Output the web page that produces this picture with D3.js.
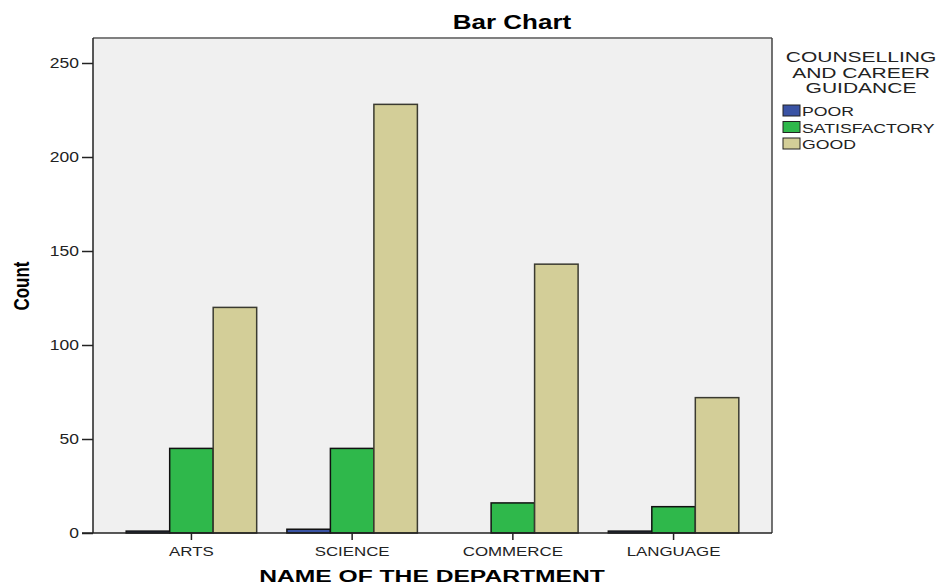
<!DOCTYPE html>
<html>
<head>
<meta charset="utf-8">
<script src="https://cdn.jsdelivr.net/npm/d3@7"></script>
<style>
  body { margin: 0; background: #fff; }
  text { font-family: "Liberation Sans", Arial, sans-serif; }
</style>
</head>
<body>
<svg id="chart" width="940" height="587"></svg>
<script>
// --- data ---
const departments = ["ARTS", "SCIENCE", "COMMERCE", "LANGUAGE"];
const ratings = ["POOR", "SATISFACTORY", "GOOD"];
const poor = [1, 2, 0, 1];
const satisfactory = [45, 45, 16, 14];
const good = [120, 228, 143, 72];
const yTicks = [0, 50, 100, 150, 200, 250];

const colors = { POOR: "#3a53a4", SATISFACTORY: "#2fb84b", GOOD: "#d3ce98" };
const series = { POOR: poor, SATISFACTORY: satisfactory, GOOD: good };

const svg = d3.select("#chart");
const plot = { left: 93, right: 772, top: 38, bottom: 533 };

// the source picture is stretched sideways, so text gets a horizontal scale
function stretchedText(parent, x, y, sx, str) {
  return parent.append("text")
    .attr("transform", `translate(${x},${y}) scale(${sx},1)`)
    .text(str);
}

const x = d3.scaleBand()
  .domain(departments)
  .range([plot.left, plot.right])
  .paddingInner(0)
  .paddingOuter(0.1125);

const groupW = x.bandwidth() * 0.812;
const xi = d3.scaleBand()
  .domain(ratings)
  .range([(x.bandwidth() - groupW) / 2, (x.bandwidth() + groupW) / 2]);

const y = d3.scaleLinear()
  .domain([0, 250])
  .range([plot.bottom, 63]);

// plot background
svg.append("rect")
  .attr("x", plot.left).attr("y", plot.top)
  .attr("width", plot.right - plot.left).attr("height", plot.bottom - plot.top)
  .attr("fill", "#f0f0f0");

// top and right frame
svg.append("path")
  .attr("d", `M${plot.left},${plot.top}H${plot.right}`)
  .attr("stroke", "#808080").attr("stroke-width", 2).attr("fill", "none");
svg.append("path")
  .attr("d", `M${plot.right},${plot.top}V${plot.bottom}`)
  .attr("stroke", "#444").attr("stroke-width", 1.5).attr("fill", "none");

// bars
const rows = [];
departments.forEach((d, i) => {
  ratings.forEach((r) => rows.push({ dept: d, rating: r, value: series[r][i] }));
});

svg.append("g")
  .selectAll("rect")
  .data(rows.filter((d) => d.value > 0))
  .join("rect")
  .attr("x", (d) => x(d.dept) + xi(d.rating))
  .attr("y", (d) => y(d.value))
  .attr("width", xi.bandwidth())
  .attr("height", (d) => y(0) - y(d.value))
  .attr("fill", (d) => colors[d.rating])
  .attr("stroke", (d) => d.rating === "GOOD" ? "#3a3a30" : "#111")
  .attr("stroke-width", 1.5);

// y axis
const yAxis = svg.append("g")
  .attr("transform", `translate(${plot.left},0)`)
  .call(d3.axisLeft(y).tickValues(yTicks).tickSize(11).tickSizeOuter(0).tickPadding(2));
yAxis.select(".domain").attr("d", `M0,${plot.top}V${plot.bottom}`).attr("stroke", "#222").attr("stroke-width", 1.5);
yAxis.selectAll(".tick line").attr("stroke", "#222").attr("stroke-width", 1.5);
yAxis.selectAll(".tick text")
  .attr("font-size", 14).attr("fill", "#222")
  .attr("x", 0)
  .attr("transform", "translate(-14,0) scale(1.25,1)");

// x axis
const xAxis = svg.append("g")
  .attr("transform", `translate(0,${plot.bottom})`)
  .call(d3.axisBottom(x).tickSize(7).tickSizeOuter(0).tickPadding(6));
xAxis.select(".domain").attr("d", `M${plot.left - 11},0H${plot.right}`).attr("stroke", "#222").attr("stroke-width", 1.5);
xAxis.selectAll(".tick line").attr("stroke", "#222").attr("stroke-width", 1.5);
xAxis.selectAll(".tick text")
  .attr("font-size", 13.5).attr("fill", "#222")
  .attr("transform", "scale(1.25,1)");

// titles
stretchedText(svg, 512, 29, 1.3, "Bar Chart")
  .attr("text-anchor", "middle")
  .attr("font-size", 20).attr("font-weight", "bold");

stretchedText(svg, 432, 582, 1.45, "NAME OF THE DEPARTMENT")
  .attr("text-anchor", "middle")
  .attr("font-size", 17).attr("font-weight", "bold");

svg.append("text")
  .attr("transform", "translate(29,286) rotate(-90) scale(1,1.3)")
  .attr("text-anchor", "middle")
  .attr("font-size", 17).attr("font-weight", "bold")
  .text("Count");

// legend
const legend = svg.append("g");
["COUNSELLING", "AND CAREER", "GUIDANCE"].forEach((t, i) => {
  stretchedText(legend, 861, 62 + i * 15.5, 1.42, t)
    .attr("text-anchor", "middle")
    .attr("font-size", 14.8).attr("fill", "#222");
});

const item = legend.selectAll("g.item")
  .data(ratings)
  .join("g")
  .attr("class", "item")
  .attr("transform", (d, i) => `translate(783,${105 + i * 16.5})`);
item.append("rect")
  .attr("width", 17).attr("height", 11)
  .attr("fill", (d) => colors[d])
  .attr("stroke", "#222").attr("stroke-width", 1);
item.each(function(d) {
  stretchedText(d3.select(this), 19, 11, 1.36, d)
    .attr("font-size", 13).attr("fill", "#222");
});
</script>
</body>
</html>
